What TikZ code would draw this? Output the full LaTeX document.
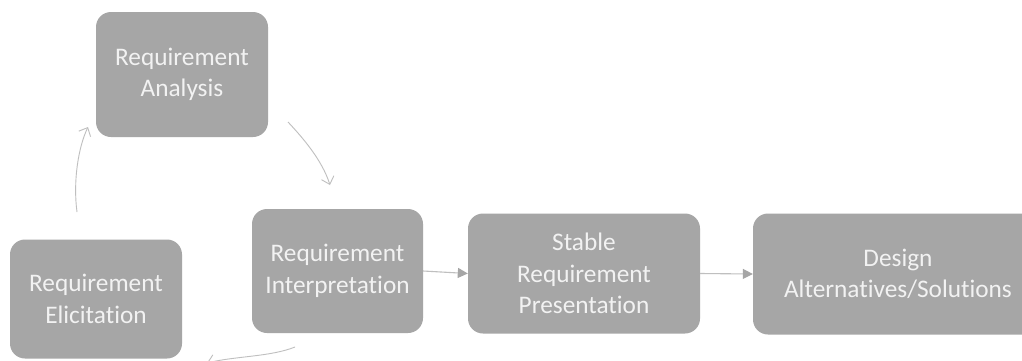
\documentclass[tikz,border=0pt]{standalone}
\usepackage{fontspec}
\setmainfont[Ligatures={NoCommon}]{Carlito}
\usetikzlibrary{arrows.meta}
\definecolor{boxgray}{HTML}{A6A6A6}
\definecolor{txtwhite}{HTML}{F2F2F2}
\definecolor{arcgray}{HTML}{BFBFBF}
\tikzset{
  stepbox/.style={fill=boxgray, draw=none, rounded corners=15pt, inner sep=0pt,
    text=txtwhite, align=center, font=\fontsize{25.3}{31.5}\selectfont},
  arcarrow/.style={draw=arcgray, line width=0.9pt, -{Straight Barb[length=7pt,width=13pt]}},
  flowarrow/.style={draw=arcgray, line width=1.1pt, -{Triangle[length=10pt,width=10pt,color=boxgray]}}
}
\begin{document}
\begin{tikzpicture}[x=1pt,y=-1pt]
\useasboundingbox (0,0) rectangle (1022,360);
\clip (0,0) rectangle (1022,360);
\fill[white] (0,0) rectangle (1022,360);
\node[stepbox, minimum width=172pt, minimum height=125pt] (ana) at (182,74.5) {Requirement\\Analysis};
\node[stepbox, minimum width=172pt, minimum height=119pt] (eli) at (96,299) {Requirement\\Elicitation};
\node[stepbox, minimum width=171pt, minimum height=124pt] (int) at (337.5,271) {Requirement\\Interpretation};
\node[stepbox, minimum width=232pt, minimum height=120pt] (sta) at (584,273.5) {Stable\\Requirement\\Presentation};
\node[stepbox, minimum width=290pt, minimum height=121pt] (des) at (898,274) {Design\\Alternatives/Solutions};
\coordinate (a1s) at (77,212);
\coordinate (a1e) at (88,127);
\coordinate (a2s) at (288,122);
\coordinate (a2e) at (330,185);
\coordinate (a3s) at (295,347);
\coordinate (a3e) at (207,363);
\draw[arcarrow] (a1s) .. controls (73,182) and (78,148) .. (a1e);
\draw[arcarrow] (a2s) .. controls (303,138) and (322,160) .. (a2e);
\draw[arcarrow] (a3s) .. controls (270,357) and (235,356) .. (a3e);
\draw[flowarrow] (int.east) -- (sta.west);
\draw[flowarrow] (sta.east) -- (des.west);
\end{tikzpicture}
\end{document}
